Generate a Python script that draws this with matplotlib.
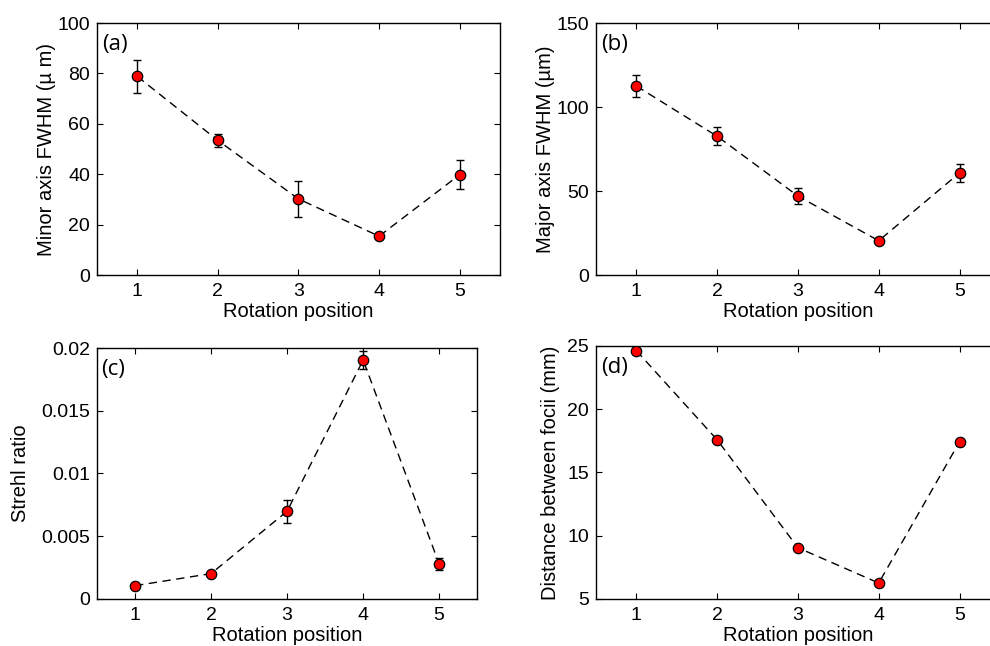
import numpy as np
import matplotlib
matplotlib.use("Agg")
import matplotlib.pyplot as plt

plt.rcParams["font.family"] = ["Liberation Sans", "DejaVu Sans"]

positions = [1, 2, 3, 4, 5]

minor_fwhm = [78.8, 53.4, 30.2, 15.4, 39.8]
minor_err = [6.5, 2.7, 7.3, 1.0, 5.8]

major_fwhm = [112.5, 82.6, 47.0, 20.4, 60.8]
major_err = [6.3, 5.3, 5.0, 1.0, 5.3]

strehl = [0.00106, 0.00202, 0.00699, 0.01904, 0.00279]
strehl_err = [0.0001, 0.0001, 0.0009, 0.0007, 0.0005]

foci_dist = [24.63, 17.58, 9.05, 6.26, 17.42]

panels = [
    dict(tag="(a)", y=minor_fwhm, err=minor_err, ylabel="Minor axis FWHM (\u00b5 m)",
         ylim=(0, 100), yticks=[0, 20, 40, 60, 80, 100], yticklabels=None, lpad=1,
         rect=[0.098, 0.5743, 0.407, 0.390]),
    dict(tag="(b)", y=major_fwhm, err=major_err, ylabel="Major axis FWHM (\u00b5m)",
         ylim=(0, 150), yticks=[0, 50, 100, 150], yticklabels=None, lpad=1,
         rect=[0.602, 0.5743, 0.408, 0.390]),
    dict(tag="(c)", y=strehl, err=strehl_err, ylabel="Strehl ratio",
         ylim=(0, 0.02), yticks=[0, 0.005, 0.01, 0.015, 0.02],
         yticklabels=["0", "0.005", "0.01", "0.015", "0.02"], lpad=8,
         rect=[0.098, 0.0728, 0.384, 0.3885]),
    dict(tag="(d)", y=foci_dist, err=None, ylabel="Distance between focii (mm)",
         ylim=(5, 25), yticks=[5, 10, 15, 20, 25], yticklabels=None, lpad=5,
         rect=[0.602, 0.0728, 0.408, 0.3916]),
]

fig = plt.figure(figsize=(9.9, 6.46), dpi=100)

for p in panels:
    ax = fig.add_axes(p["rect"])
    ax.plot(positions, p["y"], color="black", lw=1.0, linestyle=(0, (6, 4)), zorder=2)
    if p["err"] is not None:
        ax.errorbar(positions, p["y"], yerr=p["err"], fmt="none", ecolor="black",
                    elinewidth=1.0, capsize=3, capthick=1.0, zorder=3)
    ax.plot(positions, p["y"], linestyle="none", marker="o", markersize=7.5,
            markerfacecolor="#ff0000", markeredgecolor="black", markeredgewidth=0.9, zorder=4)
    ax.set_xlim(0.5, 5.5)
    ax.set_ylim(*p["ylim"])
    ax.set_xticks(positions)
    ax.set_yticks(p["yticks"])
    if p["yticklabels"] is not None:
        ax.set_yticklabels(p["yticklabels"])
    ax.tick_params(direction="in", top=True, right=True, length=4, width=0.8,
                   labelsize=14)
    ax.tick_params(axis="x", pad=6)
    ax.tick_params(axis="y", pad=5)
    for s in ax.spines.values():
        s.set_linewidth(1.0)
    ax.set_xlabel("Rotation position", fontsize=14.5, labelpad=1)
    ax.set_ylabel(p["ylabel"], fontsize=14.5, labelpad=p["lpad"])
    ax.text(0.012, 0.955, p["tag"], transform=ax.transAxes, ha="left", va="top",
            fontsize=16, family=["Open Sans", "DejaVu Sans"])

fig.savefig("out.png", dpi=100)
